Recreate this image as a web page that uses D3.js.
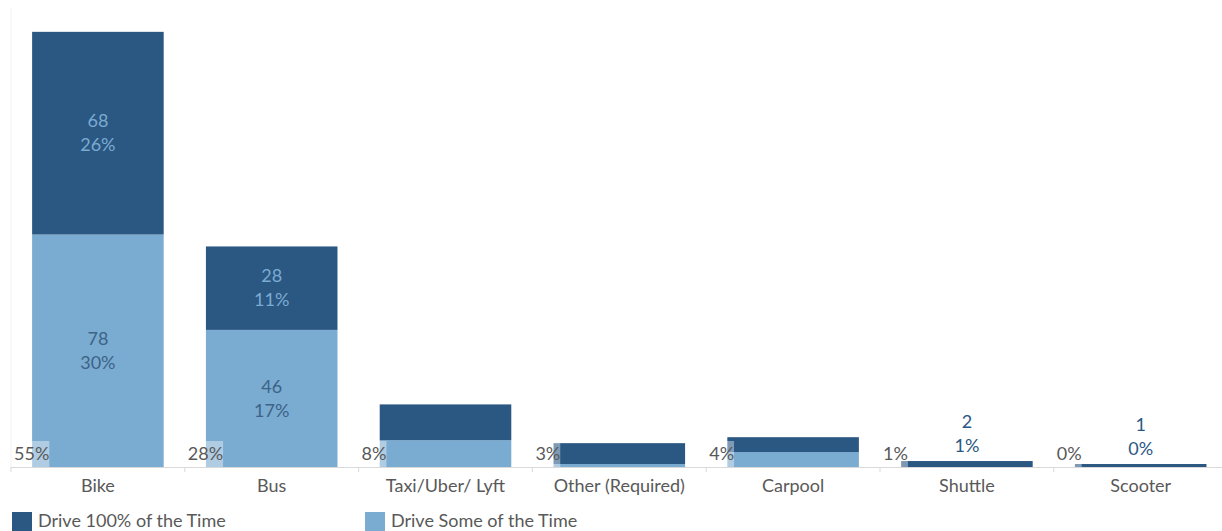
<!DOCTYPE html>
<html lang="en">
<head>
<meta charset="utf-8">
<title>drive mode chart</title>
<script src="https://d3js.org/d3.v7.min.js"></script>
<style>
  body { margin: 0; background: #fff; }
  svg { display: block; font-family: Lato, "Open Sans", sans-serif; }
</style>
</head>
<body>
<script>
const categories = ["Bike", "Bus", "Taxi/Uber/ Lyft", "Other (Required)", "Carpool", "Shuttle", "Scooter"];
const driveSome = [78, 46, 9, 1, 5, 0, 0];
const driveSomePct = ["30%", "17%", "", "", "", "", ""];
const driveAll = [68, 28, 12, 7, 5, 2, 1];
const driveAllPct = ["26%", "11%", "", "", "", "1%", "0%"];
const totalPct = ["55%", "28%", "8%", "3%", "4%", "1%", "0%"];
const seriesNames = ["Drive 100% of the Time", "Drive Some of the Time"];

const W = 1222, H = 531;
const darkBlue = "#2b5783", lightBlue = "#7aabd1", gray = "#595959";
const fs = 18;

const svg = d3.select("body").append("svg").attr("width", W).attr("height", H);

const x = d3.scaleBand().domain(categories).range([11, 1227.6])
  .paddingInner(0.243).paddingOuter(0.1215);
const y = d3.scaleLinear().domain([0, 154]).range([467, 8]);

// faint left frame line
svg.append("line").attr("x1", 11).attr("x2", 11).attr("y1", y(154)).attr("y2", y(0))
  .attr("stroke", "#f2f2f2");

const data = categories.map((c, i) => ({
  cat: c, some: driveSome[i], all: driveAll[i],
  somePct: driveSomePct[i], allPct: driveAllPct[i], tot: totalPct[i]
}));

// light bottom segment
svg.selectAll(".some").data(data).join("rect")
  .attr("x", d => x(d.cat)).attr("width", x.bandwidth())
  .attr("y", d => y(d.some)).attr("height", d => y(0) - y(d.some))
  .attr("fill", lightBlue);

// dark top segment
svg.selectAll(".all").data(data).join("rect")
  .attr("x", d => x(d.cat)).attr("width", x.bandwidth())
  .attr("y", d => y(d.some + d.all)).attr("height", d => y(d.some) - y(d.some + d.all))
  .attr("fill", darkBlue);

// axis
const step = x.step();
const axis = d3.axisBottom(x).tickSize(0).tickPadding(12);
const gx = svg.append("g").attr("transform", `translate(0,${y(0)})`).call(axis);
gx.select(".domain").attr("stroke", "#d9d9d9").attr("d", `M${x.range()[0]},0.5H${W}`);
gx.selectAll("text").attr("font-size", fs).attr("fill", gray).attr("font-family", "Lato, sans-serif");
svg.append("g").selectAll("line").data(categories).join("line")
  .attr("x1", d => x(d) - step * 0.1215)
  .attr("x2", d => x(d) - step * 0.1215)
  .attr("y1", y(0)).attr("y2", y(0) + 5)
  .attr("stroke", "#d9d9d9");

// value labels inside / above bars
function twoLine(g, cx, cy, top, bottom, color) {
  g.append("text").attr("x", cx).attr("y", cy - 12).attr("dy", "0.35em")
    .attr("text-anchor", "middle").attr("font-size", fs).attr("fill", color).text(top);
  g.append("text").attr("x", cx).attr("y", cy + 12).attr("dy", "0.35em")
    .attr("text-anchor", "middle").attr("font-size", fs).attr("fill", color).text(bottom);
}
const lg = svg.append("g");
data.forEach(d => {
  const cx = x(d.cat) + x.bandwidth() / 2;
  if (d.somePct) twoLine(lg, cx, (y(0) + y(d.some)) / 2, d.some, d.somePct, "#3d6388");
  if (d.allPct) {
    const yt = y(d.some + d.all), yb = y(d.some);
    if (yb - yt > 50) twoLine(lg, cx, (yt + yb) / 2, d.all, d.allPct, lightBlue);
    else twoLine(lg, cx, yt - 27, d.all, d.allPct, darkBlue);
  }
});

// total labels with translucent backgrounds
const tg = svg.append("g");
data.forEach(d => {
  const tx = x(d.cat) - step * 0.1215 + 3;
  const t = tg.append("text").attr("x", tx).attr("y", 454).attr("dy", "0.35em")
    .attr("font-size", fs).attr("fill", gray).text(d.tot);
  const bb = t.node().getBBox();
  tg.insert("rect", "text").attr("x", bb.x - 1).attr("y", 441).attr("width", bb.width + 1)
    .attr("height", y(0) - 441).attr("fill", "#fff").attr("opacity", 0.4);
});

// legend
const leg = svg.append("g");
[[12, darkBlue], [365, lightBlue]].forEach(([lx, col], i) => {
  leg.append("rect").attr("x", lx).attr("y", 512).attr("width", 20).attr("height", 20).attr("fill", col);
  leg.append("text").attr("x", lx + 26).attr("y", 521).attr("dy", "0.35em")
    .attr("font-size", fs).attr("fill", gray).text(seriesNames[i]);
});
</script>
</body>
</html>
